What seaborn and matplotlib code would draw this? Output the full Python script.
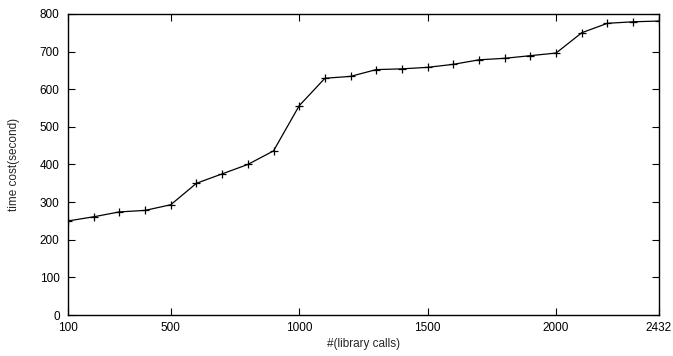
import matplotlib
matplotlib.use('Agg')
import matplotlib.pyplot as plt
import seaborn as sns
import pandas as pd

# pozycje na osi x (ostatni punkt opisany jako 2432)
library_calls = [100, 200, 300, 400, 500, 600, 700, 800, 900, 1000,
                 1100, 1200, 1300, 1400, 1500, 1600, 1700, 1800, 1900, 2000,
                 2100, 2200, 2300, 2400]
time_cost = [250, 261, 274, 278, 293, 350, 375, 400, 436, 556,
             629, 634, 652, 654, 658, 666, 678, 682, 689, 696,
             750, 775, 779, 781]
x_ticks = [100, 500, 1000, 1500, 2000, 2400]
x_tick_labels = ['100', '500', '1000', '1500', '2000', '2432']
y_ticks = [0, 100, 200, 300, 400, 500, 600, 700, 800]

df = pd.DataFrame({'calls': library_calls, 'time': time_cost})

sns.set_style('ticks')
plt.rcParams['font.family'] = ['Liberation Sans', 'DejaVu Sans']

fig = plt.figure(figsize=(6.73, 3.56), dpi=100)
ax = fig.add_axes([0.101, 0.115, 0.878, 0.846])

sns.lineplot(data=df, x='calls', y='time', ax=ax, color='black', linewidth=0.9,
             marker='+', markersize=6, markeredgewidth=0.9, markeredgecolor='black')

ax.set_xlim(100, 2400)
ax.set_ylim(0, 800)
ax.set_xticks(x_ticks)
ax.set_xticklabels(x_tick_labels)
ax.set_yticks(y_ticks)
ax.tick_params(direction='in', top=True, right=True, length=5, width=0.8,
               labelsize=8.5, colors='black')
ax.tick_params(axis='x', pad=5)
ax.tick_params(axis='y', pad=6)
for s in ax.spines.values():
    s.set_linewidth(1.0)
    s.set_color('black')

ax.set_xlabel('#(library calls)', fontsize=8.5, labelpad=3)
ax.set_ylabel('time cost(second)', fontsize=8.5, labelpad=14)

fig.savefig('out.png', dpi=100)
plt.close()
